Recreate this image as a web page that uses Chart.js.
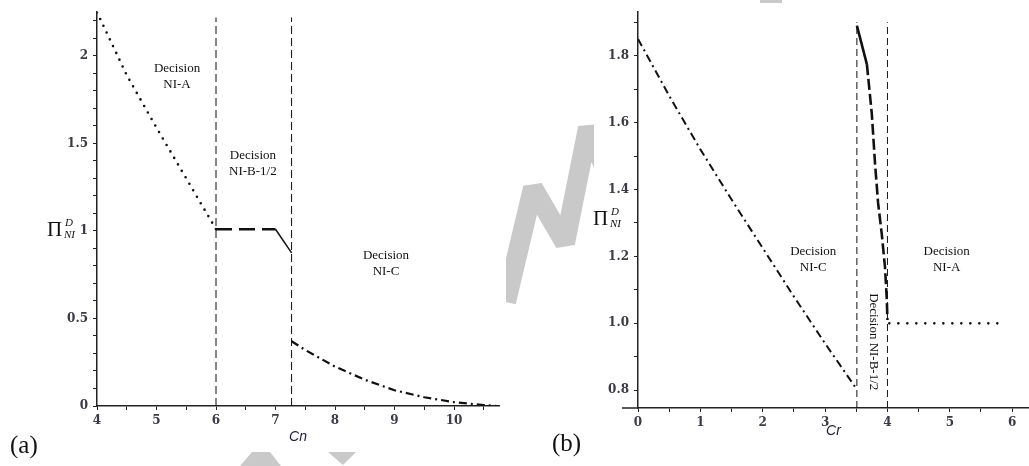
<!DOCTYPE html>
<html><head><meta charset="utf-8">
<script src="https://cdn.jsdelivr.net/npm/chart.js@4"></script>
<style>
html,body{margin:0;padding:0;background:#fff;width:1029px;height:466px;overflow:hidden;}
#wrap{position:relative;width:1029px;height:466px;}
canvas{position:absolute;top:0;}
#ca{left:0;width:505px;height:466px;}
#cb{left:505px;width:524px;height:466px;}
</style></head><body>
<div id="wrap"><canvas id="ca" width="505" height="466"></canvas><canvas id="cb" width="524" height="466"></canvas></div>
<script>
// ---------- Panel (a): profit vs Cn ----------
const cnNIA = [4, 4.5, 5, 5.5, 6];
const piNIA = [2.25, 1.89, 1.59, 1.30, 1.01];
const cnNIB = [6, 7, 7.27];
const piNIB = [1.01, 1.01, 0.875];
const cnNIC = [7.27, 7.5, 8, 8.5, 9, 9.5, 10, 10.5, 10.72];
const piNIC = [0.37, 0.32, 0.225, 0.15, 0.09, 0.05, 0.022, 0.005, 0];
const cnBounds = [6, 7.27];
const cnBoundRange = [0, 2.22];
const cnTicks = [4, 4.5, 5, 5.5, 6, 6.5, 7, 7.5, 8, 8.5, 9, 9.5, 10, 10.5];
const cnMajor = [4, 5, 6, 7, 8, 9, 10];
const cnLabels = ['4', '5', '6', '7', '8', '9', '10'];
const piATicks = [0, 0.1, 0.2, 0.3, 0.4, 0.5, 0.6, 0.7, 0.8, 0.9, 1, 1.1, 1.2, 1.3, 1.4, 1.5, 1.6, 1.7, 1.8, 1.9, 2, 2.1, 2.2];
const piAMajor = [0, 0.5, 1, 1.5, 2];
const piALabels = ['0', '0.5', '1', '1.5', '2'];

// ---------- Panel (b): profit vs Cr ----------
const crNIC = [0, 0.5, 1, 1.5, 2, 2.5, 3, 3.5];
const piNICb = [1.85, 1.68, 1.52, 1.37, 1.225, 1.08, 0.94, 0.805];
const crNIB = [3.51, 3.67, 3.75, 3.8, 3.85, 3.91, 3.96, 3.99, 4.0];
const piNIBb = [1.89, 1.775, 1.625, 1.48, 1.36, 1.265, 1.17, 1.07, 1.01];
const crNIA = [4.03, 5.9];
const piNIAb = [1.0, 1.0];
const crBounds = [3.51, 4.0];
const crBoundRange = [0.747, 1.9];
const crAxisStart = -0.257;
const crTicks = [0, 0.5, 1, 1.5, 2, 2.5, 3, 3.5, 4, 4.5, 5, 5.5, 6];
const crMajor = [0, 1, 2, 3, 4, 5, 6];
const crLabels = ['0', '1', '2', '3', '4', '5', '6'];
const piBTicks = [0.8, 0.9, 1.0, 1.1, 1.2, 1.3, 1.4, 1.5, 1.6, 1.7, 1.8, 1.9];
const piBMajor = [0.8, 1.0, 1.2, 1.4, 1.6, 1.8];
const piBLabels = ['0.8', '1.0', '1.2', '1.4', '1.6', '1.8'];

// ---------- helpers ----------
const pts = (xs, ys) => xs.map((x, i) => ({x: x, y: ys[i]}));
const vline = (x, r) => [{x: x, y: r[0]}, {x: x, y: r[1]}];
const labelFor = (majors, labels) => (v) => {
  const i = majors.findIndex(m => Math.abs(m - v) < 1e-9);
  return i < 0 ? '' : labels[i];
};
const TICK_COLOR = '#3a3a48';
const AXIS_COLOR = '#222';
const TICK_FONT = {family: 'DejaVu Serif', size: 12, weight: 'bold'};

function xAxis(min, max, ticks, majors, labels, h, title, titlePad) {
  return {
    type: 'linear', min: min, max: max,
    afterBuildTicks: s => { s.ticks = ticks.map(v => ({value: v})); },
    afterFit: s => { s.height = h; },
    border: {display: true, color: AXIS_COLOR, width: 1.5},
    grid: {display: true, drawOnChartArea: false, drawTicks: true, tickLength: 4, color: AXIS_COLOR},
    ticks: {autoSkip: false, maxRotation: 0, padding: 4, color: TICK_COLOR,
      font: TICK_FONT, callback: labelFor(majors, labels)},
    title: {display: true, text: title, color: '#1c1c40',
      font: {family: 'Liberation Sans', size: 14, style: 'italic'}, padding: {top: 0, bottom: titlePad}}
  };
}
function yAxis(min, max, ticks, majors, labels, w) {
  return {
    type: 'linear', min: min, max: max,
    afterBuildTicks: s => { s.ticks = ticks.map(v => ({value: v})); },
    afterFit: s => { s.width = w; },
    border: {display: true, color: AXIS_COLOR, width: 1.5},
    grid: {display: true, drawOnChartArea: false, drawTicks: true, tickLength: 4, color: AXIS_COLOR},
    ticks: {autoSkip: false, padding: 5, color: TICK_COLOR,
      font: TICK_FONT, callback: labelFor(majors, labels)}
  };
}

const dotted = (gap) => ({borderWidth: 2.6, borderCapStyle: 'round', borderDash: [0, gap]});
const bound = (dash) => ({borderColor: '#111', borderWidth: 1, borderDash: dash});

// plugin: region texts, y-axis symbol, panel letter, watermark, axis extension
const decor = {
  id: 'decor',
  beforeDraw(chart, args, o) {
    const ctx = chart.ctx;
    ctx.save();
    ctx.fillStyle = '#ffffff';
    ctx.fillRect(0, 0, chart.width, chart.height);
    ctx.fillStyle = '#c9c9c9';
    ctx.strokeStyle = '#c9c9c9';
    const off = o.offset || 0;
    (o.polys || []).forEach(p => {
      ctx.beginPath();
      p.forEach((q, i) => i ? ctx.lineTo(q[0] - off, q[1]) : ctx.moveTo(q[0] - off, q[1]));
      ctx.closePath(); ctx.fill();
    });
    if (o.mark) {
      ctx.save();
      ctx.beginPath();
      ctx.rect(o.mark.clip[0] - off, 0, o.mark.clip[1] - o.mark.clip[0], chart.height);
      ctx.clip();
      ctx.lineWidth = o.mark.width; ctx.lineJoin = 'miter'; ctx.miterLimit = 2.2;
      ctx.beginPath();
      o.mark.path.forEach((q, i) => i ? ctx.lineTo(q[0] - off, q[1]) : ctx.moveTo(q[0] - off, q[1]));
      ctx.stroke();
      ctx.restore();
    }
    ctx.restore();
  },
  afterDraw(chart, args, o) {
    const ctx = chart.ctx, xs = chart.scales.x, ys = chart.scales.y;
    ctx.save();
    if (o.axisFrom !== undefined) {
      // x-axis line continues slightly left of the y-axis
      const yb = chart.chartArea.bottom;
      ctx.strokeStyle = AXIS_COLOR; ctx.lineWidth = 1.5;
      ctx.beginPath(); ctx.moveTo(xs.getPixelForValue(o.axisFrom), yb); ctx.lineTo(chart.chartArea.left, yb); ctx.stroke();
    }
    ctx.fillStyle = '#111';
    ctx.font = '13px "Liberation Serif"';
    ctx.textAlign = 'center'; ctx.textBaseline = 'middle';
    (o.regions || []).forEach(r => {
      const px = xs.getPixelForValue(r.x), py = ys.getPixelForValue(r.y);
      if (r.rotate) {
        ctx.save(); ctx.translate(px, py); ctx.rotate(Math.PI / 2);
        ctx.fillText(r.lines.join(' '), 0, 0); ctx.restore();
      } else {
        r.lines.forEach((t, i) => ctx.fillText(t, px, py + (i - (r.lines.length - 1) / 2) * 16.5));
      }
    });
    // y-axis symbol  Π^D_NI
    const s = o.sym;
    ctx.textAlign = 'left'; ctx.textBaseline = 'alphabetic';
    ctx.font = '21px "Liberation Serif"';
    ctx.fillText('\u03A0', s.x, s.y);
    ctx.font = 'italic 11px "Liberation Serif"';
    ctx.fillText('D', s.x + 18, s.y - 10);
    ctx.fillText('NI', s.x + 17, s.y + 2);
    // panel letter
    ctx.font = '25px "Liberation Serif"';
    ctx.fillText(o.letter.t, o.letter.x, o.letter.y);
    ctx.restore();
  }
};

const common = {
  responsive: false, animation: false,
  plugins: {legend: {display: false}, tooltip: {enabled: false}},
  elements: {point: {radius: 0}, line: {tension: 0, borderColor: '#111', fill: false}}
};

new Chart(document.getElementById('ca'), {
  type: 'scatter',
  data: {datasets: [
    Object.assign({data: pts(cnNIA, piNIA), showLine: true}, dotted(7.5)),
    {data: pts(cnNIB, piNIB), showLine: true, borderWidth: 2.4,
      segment: {borderDash: c => c.p0.parsed.x >= 7 ? [] : [16, 7], borderWidth: c => c.p0.parsed.x >= 7 ? 1.5 : 2.4}},
    {data: pts(cnNIC, piNIC), showLine: true, borderWidth: 2.2, borderDash: [8, 4, 2, 4]},
    Object.assign({data: vline(cnBounds[0], cnBoundRange), showLine: true}, bound([8, 4])),
    Object.assign({data: vline(cnBounds[1], cnBoundRange), showLine: true}, bound([8, 4]))
  ]},
  options: Object.assign({}, common, {
    layout: {padding: {left: 0, right: 6, top: 10, bottom: 0}},
    scales: {
      x: xAxis(4, 10.756, cnTicks, cnMajor, cnLabels, 60, 'Cn', 20),
      y: yAxis(0, 2.25, piATicks, piAMajor, piALabels, 97)
    },
    plugins: Object.assign({}, common.plugins, {decor: {
      regions: [
        {x: 5.345, y: 1.881, lines: ['Decision', 'NI-A']},
        {x: 6.62, y: 1.384, lines: ['Decision', 'NI-B-1/2']},
        {x: 8.857, y: 0.815, lines: ['Decision', 'NI-C']}
      ],
      sym: {x: 47, y: 236},
      letter: {t: '(a)', x: 10, y: 453},
      offset: 0,
      polys: [
        [[252, 452], [270, 452], [281, 466], [240, 466]],
        [[328, 452], [356, 452], [343, 465]]
      ]
    }})
  }),
  plugins: [decor]
});

new Chart(document.getElementById('cb'), {
  type: 'scatter',
  data: {datasets: [
    {data: pts(crNIC, piNICb), showLine: true, borderWidth: 2, borderDash: [8, 4, 2, 4]},
    {data: pts(crNIB, piNIBb), showLine: true, borderWidth: 2.6,
      segment: {borderDash: c => c.p0DataIndex === 0 ? [] : [11, 4]}},
    Object.assign({data: pts(crNIA, piNIAb), showLine: true}, dotted(9)),
    Object.assign({data: vline(crBounds[0], crBoundRange), showLine: true}, bound([7, 4])),
    Object.assign({data: vline(crBounds[1], crBoundRange), showLine: true}, bound([7, 4]))
  ]},
  options: Object.assign({}, common, {
    layout: {padding: {left: 0, right: 0, top: 7, bottom: 0}},
    scales: {
      x: xAxis(0, 6.27, crTicks, crMajor, crLabels, 58, 'Cr', 26),
      y: yAxis(0.747, 1.93, piBTicks, piBMajor, piBLabels, 133)
    },
    plugins: Object.assign({}, common.plugins, {decor: {
      regions: [
        {x: 2.81, y: 1.191, lines: ['Decision', 'NI-C']},
        {x: 4.95, y: 1.191, lines: ['Decision', 'NI-A']},
        {x: 3.775, y: 0.945, lines: ['Decision NI-B-1/2'], rotate: true}
      ],
      axisFrom: crAxisStart,
      sym: {x: 88, y: 225},
      letter: {t: '(b)', x: 47, y: 451},
      offset: 505,
      polys: [
        [[760, 0], [782, 0], [782, 3], [760, 3]]
      ],
      mark: {clip: [506, 594], width: 20, path: [[506, 302], [533, 188], [565, 243], [588, 128], [612, 185]]}
    }})
  }),
  plugins: [decor]
});
</script>
</body></html>
